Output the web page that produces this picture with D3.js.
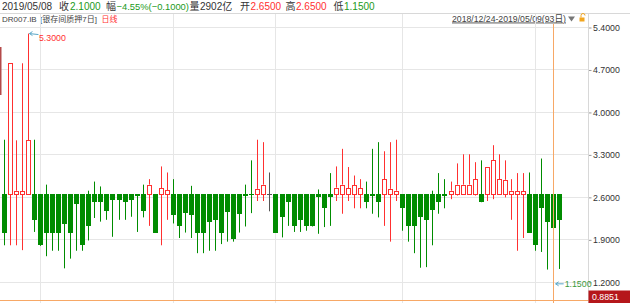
<!DOCTYPE html>
<html>
<head>
<meta charset="utf-8">
<script src="https://cdn.jsdelivr.net/npm/d3@7"></script>
<style>
  body { margin: 0; background: #fff; }
  svg { display: block; font-family: "Liberation Sans", "Noto Sans CJK SC", sans-serif; }
</style>
</head>
<body>
<svg id="chart" width="630" height="303"></svg>
<script>
// trading days shown (93)
const dates = [
  "2018/12/24","2018/12/25","2018/12/26","2018/12/27","2018/12/28","2018/12/29",
  "2019/01/02","2019/01/03","2019/01/04","2019/01/07","2019/01/08","2019/01/09","2019/01/10","2019/01/11",
  "2019/01/14","2019/01/15","2019/01/16","2019/01/17","2019/01/18","2019/01/21","2019/01/22","2019/01/23",
  "2019/01/24","2019/01/25","2019/01/28","2019/01/29","2019/01/30","2019/01/31",
  "2019/02/01","2019/02/02","2019/02/03","2019/02/11","2019/02/12","2019/02/13","2019/02/14","2019/02/15",
  "2019/02/18","2019/02/19","2019/02/20","2019/02/21","2019/02/22","2019/02/25","2019/02/26","2019/02/27","2019/02/28",
  "2019/03/01","2019/03/04","2019/03/05","2019/03/06","2019/03/07","2019/03/08","2019/03/11","2019/03/12",
  "2019/03/13","2019/03/14","2019/03/15","2019/03/18","2019/03/19","2019/03/20","2019/03/21","2019/03/22",
  "2019/03/25","2019/03/26","2019/03/27","2019/03/28","2019/03/29",
  "2019/04/01","2019/04/02","2019/04/03","2019/04/04","2019/04/08","2019/04/09","2019/04/10","2019/04/11",
  "2019/04/12","2019/04/15","2019/04/16","2019/04/17","2019/04/18","2019/04/19","2019/04/22","2019/04/23",
  "2019/04/24","2019/04/25","2019/04/26","2019/04/28","2019/04/29","2019/04/30",
  "2019/05/05","2019/05/06","2019/05/07","2019/05/08","2019/05/09"
];

const opens = [
  2.65,2.65,2.65,2.65,2.65,2.65,2.65,2.65,2.65,2.65,2.65,2.65,2.65,2.65,2.65,2.65,2.65,2.65,2.65,2.65,
  2.65,2.65,2.65,2.65,2.65,2.65,2.65,2.65,2.65,2.65,2.65,2.65,2.65,2.65,2.65,2.65,2.65,2.65,2.65,2.65,
  2.65,2.65,2.65,2.65,2.65,2.65,2.65,2.65,2.65,2.65,2.65,2.65,2.65,2.65,2.65,2.65,2.65,2.65,2.65,2.65,
  2.65,2.65,2.65,2.65,2.65,2.65,2.65,2.65,2.65,2.65,2.65,2.65,2.65,2.65,2.65,2.65,2.65,2.65,2.65,2.65,
  2.65,2.65,2.65,2.65,2.65,2.65,2.65,2.65,2.65,2.65,2.65,2.65,2.65
];
const closes = [
  2.02,4.81,2.71,2.70,3.54,2.22,1.81,2.02,2.02,2.02,2.16,2.02,2.49,1.81,2.12,2.52,2.52,2.37,2.55,2.55,
  2.52,2.56,2.62,2.37,2.81,2.02,2.75,2.72,2.31,2.12,2.34,2.31,2.02,2.02,2.20,2.22,2.02,2.36,1.91,2.33,
  2.63,2.64,2.74,2.81,2.65,2.02,2.27,2.52,2.12,2.22,2.12,2.12,2.60,2.42,2.61,2.76,2.81,2.75,2.80,2.75,
  2.52,2.62,2.52,2.90,2.74,2.71,2.42,2.12,2.12,2.28,2.22,2.39,2.52,2.62,2.71,2.81,2.81,2.81,2.90,2.52,
  3.10,3.21,2.90,2.89,2.71,2.70,2.70,2.02,1.81,2.42,2.20,2.10,2.22
];
const highs = [
  3.55,4.81,3.54,4.81,5.30,3.55,2.65,2.81,2.65,2.65,2.65,2.65,2.65,2.65,2.71,2.86,2.78,2.65,2.65,2.65,
  2.65,2.65,2.65,2.81,2.90,2.65,3.11,3.01,2.90,2.65,2.65,2.79,2.65,2.65,2.65,2.65,2.65,2.65,2.65,2.65,
  2.81,3.21,3.55,3.51,3.01,2.65,2.65,2.65,2.65,2.65,2.65,2.65,2.73,2.65,3.00,3.11,3.40,3.10,2.96,2.90,
  2.86,3.40,3.51,3.36,3.51,3.55,2.65,2.65,2.65,2.65,2.65,2.71,3.00,2.90,2.86,3.16,3.31,3.31,3.18,3.21,
  3.10,3.46,3.31,3.21,2.90,3.00,3.00,3.01,2.65,3.24,2.65,2.65,2.65
];
const lows = [
  1.81,1.81,1.81,1.73,2.65,2.03,1.80,1.63,1.72,1.72,1.43,1.59,1.72,1.72,1.89,2.26,2.20,2.23,1.95,2.23,
  2.23,2.28,2.03,2.27,2.13,2.02,1.81,2.23,2.17,1.93,2.02,1.93,1.68,1.68,1.72,1.72,1.83,1.87,1.87,2.02,
  2.12,2.34,2.54,2.54,2.37,2.02,1.94,2.13,2.03,2.03,2.05,2.12,2.00,2.11,2.13,2.54,2.33,2.54,2.42,2.42,
  2.42,2.33,2.27,2.13,1.87,2.54,2.05,1.87,1.68,1.44,1.45,1.81,2.33,2.42,2.57,2.63,2.65,2.64,2.63,2.52,
  2.54,2.57,2.64,2.60,2.23,1.72,1.93,2.02,1.72,1.70,1.41,1.15,1.42
];

const yTicks = [1.2, 1.9, 2.6, 3.3, 4.0, 4.7, 5.4];
const cursorIndex = 91;      // 2019/05/08
const cursorValue = 0.8851;

const svg = d3.select("#chart");
const width = +svg.attr("width");
const height = +svg.attr("height");
const axisX = 588.5;
const red = "#ff3030", green = "#008c00", grid = "#e6e6e6";
const fmt = d3.format(".4f");

const x = d3.scaleBand()
  .domain(dates)
  .range([1.3, 562.7])
  .paddingInner(0.24)
  .paddingOuter(0.12);
const y = d3.scaleLinear().domain([1.2, 5.4]).range([282.3, 27.5]);
const cx = d => x(d) + x.bandwidth() / 2;
const px = v => Math.floor(v) + 0.5;

const candles = dates.map((d, i) => ({
  date: d, open: opens[i], close: closes[i], high: highs[i], low: lows[i]
}));

// header rows
svg.append("line").attr("x1", 0).attr("x2", width).attr("y1", 13.5).attr("y2", 13.5)
  .attr("stroke", "#d8d8d8");

const chg = closes[cursorIndex] - closes[cursorIndex - 1];
const info = [
  { t: dates[cursorIndex], x: 2, s: 10, c: "#333" },
  { t: "收", x: 59, s: 10, c: "#333" },
  { t: fmt(closes[cursorIndex]), x: 70, s: 10, c: "#1b9a1b" },
  { t: "幅", x: 106, s: 10, c: "#333" },
  { t: d3.format(".2f")(chg / closes[cursorIndex - 1] * 100) + "%(" + fmt(chg) + ")", x: 116.5, s: 9.4, c: "#1b9a1b" },
  { t: "量", x: 189.5, s: 10, c: "#333" },
  { t: "2902亿", x: 200, s: 10, c: "#333" },
  { t: "开", x: 240, s: 10, c: "#333" },
  { t: fmt(opens[cursorIndex]), x: 250.5, s: 10, c: red },
  { t: "高", x: 285.5, s: 10, c: "#333" },
  { t: fmt(highs[cursorIndex]), x: 296, s: 10, c: red },
  { t: "低", x: 333.5, s: 10, c: "#333" },
  { t: fmt(lows[cursorIndex]), x: 344, s: 10, c: "#1b9a1b" }
];
svg.append("g").selectAll("text").data(info).enter().append("text")
  .attr("x", d => d.x).attr("y", 10)
  .attr("font-size", d => d.s).attr("fill", d => d.c)
  .text(d => d.t);

const sub = [
  { t: "DR007.IB", x: 2, c: "#444" },
  { t: "[银存间质押7日]", x: 40, c: "#444" },
  { t: "日线", x: 101.5, c: red }
];
svg.append("g").selectAll("text").data(sub).enter().append("text")
  .attr("x", d => d.x).attr("y", 22)
  .attr("font-size", 8).attr("fill", d => d.c)
  .text(d => d.t);

svg.append("text").attr("x", 452).attr("y", 21.5).attr("font-size", 8.7).attr("fill", "#444")
  .attr("text-decoration", "underline")
  .text(dates[0] + "-" + dates[dates.length - 1] + "(" + dates.length + "日)");
svg.append("path").attr("d", "M568,16.5 L575,16.5 L571.5,21.5 Z").attr("fill", "#777");
svg.append("rect").attr("x", 579.5).attr("y", 17.5).attr("width", 5).attr("height", 4).attr("fill", "#f2a51e");
svg.append("path").attr("d", "M581,17.5 V15.5 A2,2 0 0 1 585,15.5").attr("fill", "none")
  .attr("stroke", "#f2a51e");

// grid
svg.append("g").selectAll("line").data(yTicks).enter().append("line")
  .attr("x1", 0).attr("x2", axisX)
  .attr("y1", d => px(y(d))).attr("y2", d => px(y(d)))
  .attr("stroke", grid);

const monthStarts = dates.filter((d, i) => i > 0 && d.slice(5, 7) !== dates[i - 1].slice(5, 7));
svg.append("g").selectAll("line").data(monthStarts).enter().append("line")
  .attr("x1", d => px(cx(d))).attr("x2", d => px(cx(d)))
  .attr("y1", 14).attr("y2", height)
  .attr("stroke", grid);

// right axis
const yAxis = d3.axisRight(y).tickValues(yTicks).tickFormat(fmt).tickSize(3);
const ax = svg.append("g").attr("transform", `translate(${axisX},0)`).call(yAxis);
ax.select(".domain").remove();
ax.append("line").attr("y1", 14).attr("y2", height).attr("stroke", "#d8d8d8");
ax.selectAll(".tick line").attr("stroke", "#999");
ax.selectAll(".tick text").attr("x", 4.5).attr("fill", "#333").attr("font-size", 8.8)
  .attr("font-family", "'Liberation Sans', sans-serif");

svg.append("rect").attr("x", 0).attr("y", 47).attr("width", 1.5).attr("height", 48).attr("fill", "#b44a4a");

// candles
const g = svg.append("g");
candles.forEach(d => {
  const c = px(cx(d.date));
  const bx = Math.round(cx(d.date) - 2.5);
  const yo = y(d.open), yc = y(d.close);
  if (d.close > d.open) {
    g.append("line").attr("x1", c).attr("x2", c).attr("y1", y(d.high)).attr("y2", yc)
      .attr("stroke", red);
    g.append("line").attr("x1", c).attr("x2", c).attr("y1", yo).attr("y2", y(d.low))
      .attr("stroke", red);
    g.append("rect").attr("x", bx + 0.5).attr("y", Math.round(yc) + 0.5)
      .attr("width", 4).attr("height", Math.max(1, Math.round(yo) - Math.round(yc)))
      .attr("fill", "#fff").attr("stroke", red);
  } else if (d.close < d.open) {
    g.append("line").attr("x1", c).attr("x2", c).attr("y1", y(d.high)).attr("y2", y(d.low))
      .attr("stroke", green);
    g.append("rect").attr("x", bx).attr("y", Math.round(yo))
      .attr("width", 5).attr("height", Math.max(1, Math.round(yc) - Math.round(yo)))
      .attr("fill", green);
  } else {
    g.append("line").attr("x1", c).attr("x2", c).attr("y1", y(d.high)).attr("y2", y(d.low))
      .attr("stroke", "#555");
    g.append("line").attr("x1", bx).attr("x2", bx + 5).attr("y1", px(yo)).attr("y2", px(yo))
      .attr("stroke", "#555");
  }
});

// max / min markers
const maxI = d3.maxIndex(highs), minI = d3.minIndex(lows);
const mx = cx(dates[maxI]) + 1, my = y(highs[maxI]);
svg.append("path").attr("d", `M${mx + 9},${my + 1} L${mx},${my} M${mx + 3},${my - 2} L${mx},${my} L${mx + 3},${my + 2}`)
  .attr("fill", "none").attr("stroke", "#5aa7c8");
svg.append("text").attr("x", mx + 9.5).attr("y", my + 7).attr("font-size", 8.8).attr("fill", red)
  .text(fmt(highs[maxI]));

const nx = cx(dates[minI]) + 2, ny = y(lows[minI]) - 1.5;
svg.append("path").attr("d", `M${nx + 8},${ny} L${nx},${ny} M${nx + 3},${ny - 2} L${nx},${ny} L${nx + 3},${ny + 2}`)
  .attr("fill", "none").attr("stroke", "#5aa7c8");
svg.append("text").attr("x", nx + 9).attr("y", ny + 3.2).attr("font-size", 8.8).attr("fill", "#3c9a3c")
  .text(fmt(lows[minI]));

// crosshair
const cxx = px(cx(dates[cursorIndex]));
const cyy = Math.round(y(cursorValue)) - 0.5;
svg.append("line").attr("x1", cxx).attr("x2", cxx).attr("y1", 24).attr("y2", height)
  .attr("stroke", "#f7a866");
svg.append("line").attr("x1", 0).attr("x2", axisX).attr("y1", cyy).attr("y2", cyy)
  .attr("stroke", "#f7a866");
svg.append("rect").attr("x", axisX).attr("y", 290.5).attr("width", width - axisX).attr("height", 13)
  .attr("fill", "#b5171b");
svg.append("text").attr("x", axisX + 3.5).attr("y", 300).attr("font-size", 8.8).attr("fill", "#fff")
  .text(fmt(cursorValue));
</script>
</body>
</html>
